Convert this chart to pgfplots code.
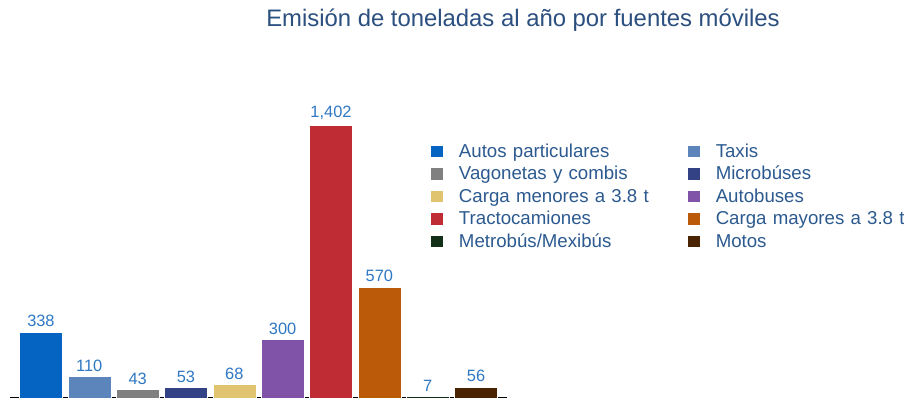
\documentclass[border=0pt]{standalone}
\usepackage{fontspec}
\setmainfont{Liberation Sans}
\usepackage{pgfplots}
\pgfplotsset{compat=1.18}
\definecolor{c1}{HTML}{0563C1}
\definecolor{c2}{HTML}{5B85BB}
\definecolor{c3}{HTML}{808080}
\definecolor{c4}{HTML}{334185}
\definecolor{c5}{HTML}{E0C470}
\definecolor{c6}{HTML}{8052A8}
\definecolor{c7}{HTML}{BF2C34}
\definecolor{c8}{HTML}{BB5A08}
\definecolor{c9}{HTML}{123018}
\definecolor{c10}{HTML}{4A2300}
\definecolor{titlecol}{HTML}{2B4F7F}
\definecolor{labcol}{HTML}{2F78C4}
\definecolor{legcol}{HTML}{2C5A90}
\begin{document}
\begin{tikzpicture}
\useasboundingbox (0,0) rectangle (678pt,300pt);
\fill[white] (0,0) rectangle (678pt,300pt);
\node[font=\fontsize{17.9}{20}\selectfont, text=titlecol, inner sep=0pt, anchor=base] at (392.25pt,279.75pt) {Emisión de toneladas al año por fuentes móviles};
\begin{axis}[
  at={(7.5pt,1.5pt)}, anchor=south west,
  scale only axis, width=372.75pt, height=223.5pt,
  xmin=-0.64, xmax=9.64, ymin=0, ymax=1530.4,
  axis x line=bottom, axis y line=none,
  x axis line style={-, black, line width=0.75pt},
  xtick=\empty, ytick=\empty,
  ybar, bar width=0.89, bar shift=0pt,
  clip=false,
  nodes near coords,
  every node near coord/.append style={font=\fontsize{12.3}{14}\selectfont, text=labcol, inner sep=0pt, anchor=south, yshift=3.75pt},
  legend columns=2,
  legend image code/.code={\path[#1, draw=none] (-0.3pt,-3.5pt) rectangle (8.55pt,5pt);},
  legend style={at={(axis description cs:0.8474,0.855)}, anchor=north west,
    draw=none, fill=none, inner sep=0pt, outer sep=0pt,
    font=\fontsize{14.0}{16}\selectfont, text=legcol,
    row sep=2.9pt,
    nodes={inner sep=0pt, text height=10.5pt, text depth=3.5pt, text width=171.75pt, align=left},
    /tikz/every odd column/.append style={column sep=12pt}},
  /pgf/number format/assume math mode=true,
  /pgf/number format/1000 sep={,},
]
\addplot[fill=c1, draw=white, line width=0.4pt] coordinates {(0,338)};
\addlegendentry{Autos particulares}
\addplot[fill=c2, draw=white, line width=0.4pt] coordinates {(1,110)};
\addlegendentry{Taxis}
\addplot[fill=c3, draw=white, line width=0.4pt] coordinates {(2,43)};
\addlegendentry{Vagonetas y combis}
\addplot[fill=c4, draw=white, line width=0.4pt] coordinates {(3,53)};
\addlegendentry{Microbúses}
\addplot[fill=c5, draw=white, line width=0.4pt] coordinates {(4,68)};
\addlegendentry{Carga menores a 3.8 t}
\addplot[fill=c6, draw=white, line width=0.4pt] coordinates {(5,300)};
\addlegendentry{Autobuses}
\addplot[fill=c7, draw=white, line width=0.4pt] coordinates {(6,1402)};
\addlegendentry{Tractocamiones}
\addplot[fill=c8, draw=white, line width=0.4pt] coordinates {(7,570)};
\addlegendentry{Carga mayores a 3.8 t}
\addplot[fill=c9, draw=white, line width=0.4pt] coordinates {(8,7)};
\addlegendentry{Metrobús/Mexibús}
\addplot[fill=c10, draw=white, line width=0.4pt] coordinates {(9,56)};
\addlegendentry{Motos}
\end{axis}
\end{tikzpicture}
\end{document}
